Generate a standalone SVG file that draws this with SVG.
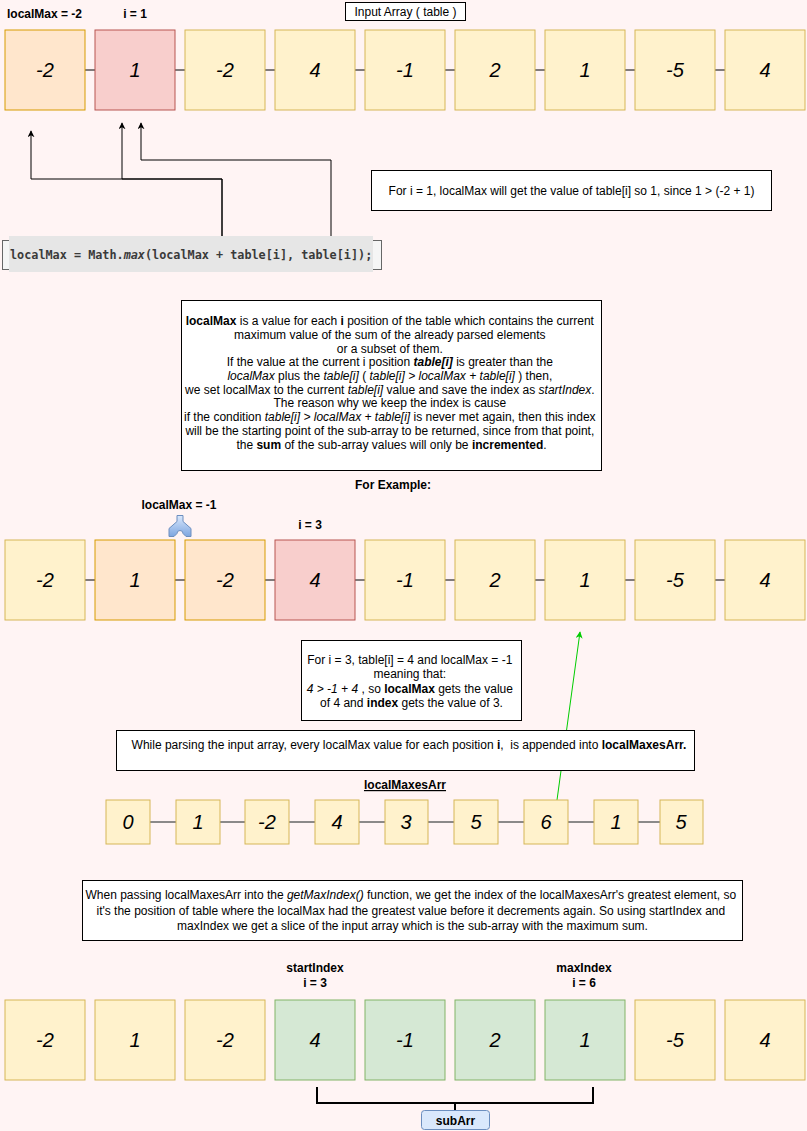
<svg xmlns="http://www.w3.org/2000/svg" width="807" height="1131" viewBox="0 0 807 1131">
<defs>
<style>
.bg{fill:#fff4f4}
.y{fill:#fff2cc;stroke:#d6b656;stroke-width:1}
.o{fill:#ffe6cc;stroke:#d79b00;stroke-width:1}
.r{fill:#f8cecc;stroke:#b85450;stroke-width:1}
.g{fill:#d5e8d4;stroke:#82b366;stroke-width:1}
.num{font-family:"Liberation Sans",Arial,sans-serif;font-size:20px;font-style:italic;text-anchor:middle;fill:#000}
.t{font-family:"Liberation Sans",Arial,sans-serif;font-size:12px;fill:#000}
.c{text-anchor:middle}
.b{font-weight:bold}
.i{font-style:italic}
.box{fill:#fff;stroke:#000;stroke-width:1}
.lnk{stroke:#000;stroke-width:1;fill:none}
.glnk{stroke:#666;stroke-width:1.5;fill:none}
.arr{stroke:#000;stroke-width:1;fill:none;marker-end:url(#ah)}
</style>
<linearGradient id="blueg" x1="0" y1="0" x2="0" y2="1">
<stop offset="0" stop-color="#dae8fc"/>
<stop offset="1" stop-color="#7ea6e0"/>
</linearGradient>
<marker id="ah" viewBox="0 0 10 10" refX="9" refY="5" markerWidth="7" markerHeight="7" orient="auto" markerUnits="userSpaceOnUse">
<path d="M0,0 L10,5 L0,10 L3,5 Z" fill="#000"/>
</marker>
<marker id="ahg" viewBox="0 0 10 10" refX="9" refY="5" markerWidth="7" markerHeight="7" orient="auto" markerUnits="userSpaceOnUse">
<path d="M0,0 L10,5 L0,10 L3,5 Z" fill="#00cc00"/>
</marker>
</defs>
<rect class="bg" x="0" y="0" width="807" height="1131"/>

<g id="connectors">
<path class="lnk" d="M85,70H95 M175,70H185 M265,70H275 M355,70H365 M445,70H455 M535,70H545 M625,70H635 M715,70H725"/>
<path class="lnk" d="M85,580H95 M175,580H185 M265,580H275 M355,580H365 M445,580H455 M535,580H545 M625,580H635 M715,580H725"/>
<path class="glnk" d="M150,822H176 M220,822H245 M289,822H315 M359,822H385 M428,822H454 M498,822H524 M568,822H594 M638,822H660"/>
<path class="arr" d="M222,236V179H31V131"/>
<path class="arr" d="M222,236V179H122V123"/>
<path class="arr" d="M331,236V160H141V123"/>
<path d="M557,800L580,632" stroke="#00cc00" stroke-width="1" fill="none" marker-end="url(#ahg)"/>
<path d="M317,1087V1103H593V1087 M455,1103V1110" stroke="#000" stroke-width="2" fill="none"/>
</g>

<g id="label-localMax-top"><text class="t b" x="7" y="18">localMax = -2</text></g>
<g id="label-i1"><text class="t b c" x="135" y="18">i = 1</text></g>
<g id="input-array-label">
<rect class="box" x="345.5" y="2.5" width="120" height="18"/>
<text class="t c" x="405.5" y="15.5">Input Array ( table )</text>
</g>

<g id="top-row">
<g id="t0"><rect class="o" x="5" y="30" width="80" height="80"/><text class="num" x="45" y="77">-2</text></g>
<g id="t1"><rect class="r" x="95" y="30" width="80" height="80"/><text class="num" x="135" y="77">1</text></g>
<g id="t2"><rect class="y" x="185" y="30" width="80" height="80"/><text class="num" x="225" y="77">-2</text></g>
<g id="t3"><rect class="y" x="275" y="30" width="80" height="80"/><text class="num" x="315" y="77">4</text></g>
<g id="t4"><rect class="y" x="365" y="30" width="80" height="80"/><text class="num" x="405" y="77">-1</text></g>
<g id="t5"><rect class="y" x="455" y="30" width="80" height="80"/><text class="num" x="495" y="77">2</text></g>
<g id="t6"><rect class="y" x="545" y="30" width="80" height="80"/><text class="num" x="585" y="77">1</text></g>
<g id="t7"><rect class="y" x="635" y="30" width="80" height="80"/><text class="num" x="675" y="77">-5</text></g>
<g id="t8"><rect class="y" x="725" y="30" width="80" height="80"/><text class="num" x="765" y="77">4</text></g>
</g>

<g id="note-i1">
<rect class="box" x="371.5" y="170.5" width="400" height="40"/>
<text class="t c" x="571.5" y="194.5">For i = 1, localMax will get the value of table[i] so 1, since 1 &gt; (-2 + 1)</text>
</g>

<g id="code">
<rect x="2.5" y="240.5" width="379" height="29" fill="#f5f5f5" stroke="#666" stroke-width="1"/>
<rect x="9" y="236" width="364" height="36" fill="#e6e6e6"/>
<text x="10" y="259" font-family="DejaVu Sans Mono,Liberation Mono,monospace" font-size="11.8" font-weight="bold" fill="#3a3a3a">localMax = Math.<tspan font-style="italic">max</tspan>(localMax + table[i], table[i]);</text>
</g>

<g id="explanation">
<rect class="box" x="181.5" y="300.5" width="420" height="170"/>
<text class="t c">
<tspan x="391.5" y="325"><tspan class="b">localMax</tspan> is a value for each <tspan class="b">i</tspan> position of the table which contains the current</tspan>
<tspan x="391.5" y="338.7">maximum value of the sum of the already parsed elements</tspan>
<tspan x="391.5" y="352.5">or a subset of them.</tspan>
<tspan x="391.5" y="366.2">If the value at the current i position <tspan class="b i">table[i]</tspan> is greater than the</tspan>
<tspan x="391.5" y="379.9"><tspan class="i">localMax</tspan> plus the <tspan class="i">table[i]</tspan> ( <tspan class="i">table[i] &gt; localMax + table[i]</tspan> ) then,</tspan>
<tspan x="391.5" y="393.7">we set localMax to the current <tspan class="i">table[i]</tspan> value and save the index as <tspan class="i">startIndex</tspan>.</tspan>
<tspan x="391.5" y="407.4">The reason why we keep the index is cause</tspan>
<tspan x="391.5" y="421.1">if the condition <tspan class="i">table[i] &gt; localMax + table[i]</tspan> is never met again, then this index</tspan>
<tspan x="391.5" y="434.8">will be the starting point of the sub-array to be returned, since from that point,</tspan>
<tspan x="391.5" y="448.6">the <tspan class="b">sum</tspan> of the sub-array values will only be <tspan class="b">incremented</tspan>.</tspan>
</text>
</g>

<g id="for-example"><text class="t b c" x="393" y="489">For Example:</text></g>
<g id="label-localMax-mid"><text class="t b c" x="179" y="509">localMax = -1</text></g>
<g id="icon-split">
<path d="M177,515.5H183V521.5L191,528.5V536.5H186L183,533.5A3,3 0 0 0 177,533.5L174,536.5H169V528.5L177,521.5Z" fill="url(#blueg)" stroke="#6c8ebf" stroke-width="1"/>
</g>
<g id="label-i3"><text class="t b c" x="310" y="529">i = 3</text></g>

<g id="middle-row">
<g id="m0"><rect class="y" x="5" y="540" width="80" height="80"/><text class="num" x="45" y="587">-2</text></g>
<g id="m1"><rect class="o" x="95" y="540" width="80" height="80"/><text class="num" x="135" y="587">1</text></g>
<g id="m2"><rect class="o" x="185" y="540" width="80" height="80"/><text class="num" x="225" y="587">-2</text></g>
<g id="m3"><rect class="r" x="275" y="540" width="80" height="80"/><text class="num" x="315" y="587">4</text></g>
<g id="m4"><rect class="y" x="365" y="540" width="80" height="80"/><text class="num" x="405" y="587">-1</text></g>
<g id="m5"><rect class="y" x="455" y="540" width="80" height="80"/><text class="num" x="495" y="587">2</text></g>
<g id="m6"><rect class="y" x="545" y="540" width="80" height="80"/><text class="num" x="585" y="587">1</text></g>
<g id="m7"><rect class="y" x="635" y="540" width="80" height="80"/><text class="num" x="675" y="587">-5</text></g>
<g id="m8"><rect class="y" x="725" y="540" width="80" height="80"/><text class="num" x="765" y="587">4</text></g>
</g>

<g id="note-i3">
<rect class="box" x="301.5" y="640.5" width="220" height="80"/>
<text class="t c">
<tspan x="411.5" y="663.5">For i = 3, table[i] = 4 and localMax = -1</tspan>
<tspan x="411.5" y="678">meaning that:</tspan>
<tspan x="411.5" y="692.5"><tspan class="i">4 &gt; -1 + 4</tspan> , so <tspan class="b">localMax</tspan> gets the value</tspan>
<tspan x="411.5" y="707">of 4 and <tspan class="b">index</tspan> gets the value of 3.</tspan>
</text>
</g>

<g id="note-parsing">
<rect class="box" x="116.5" y="730.5" width="578" height="40"/>
<text class="t c" x="409" y="749">While parsing the input array, every localMax value for each position <tspan class="b">i</tspan>, &#160;is appended into <tspan class="b">localMaxesArr.</tspan></text>
</g>

<g id="label-localMaxesArr"><text class="t b c" x="405" y="789" text-decoration="underline">localMaxesArr</text></g>

<g id="localMaxesArr">
<g id="a0"><rect class="y" x="106" y="800" width="44" height="44"/><text class="num" x="128" y="829">0</text></g>
<g id="a1"><rect class="y" x="176" y="800" width="44" height="44"/><text class="num" x="198" y="829">1</text></g>
<g id="a2"><rect class="y" x="245" y="800" width="44" height="44"/><text class="num" x="267" y="829">-2</text></g>
<g id="a3"><rect class="y" x="315" y="800" width="44" height="44"/><text class="num" x="337" y="829">4</text></g>
<g id="a4"><rect class="y" x="385" y="800" width="43" height="44"/><text class="num" x="406" y="829">3</text></g>
<g id="a5"><rect class="y" x="454" y="800" width="44" height="44"/><text class="num" x="476" y="829">5</text></g>
<g id="a6"><rect class="y" x="524" y="800" width="44" height="44"/><text class="num" x="546" y="829">6</text></g>
<g id="a7"><rect class="y" x="594" y="800" width="44" height="44"/><text class="num" x="616" y="829">1</text></g>
<g id="a8"><rect class="y" x="660" y="800" width="43" height="44"/><text class="num" x="681" y="829">5</text></g>
</g>

<g id="note-getMaxIndex">
<rect class="box" x="82.5" y="880.5" width="660" height="60"/>
<text class="t c" font-size="11.6">
<tspan x="412.5" y="899">When passing localMaxesArr into the <tspan class="i">getMaxIndex()</tspan> function, we get the index of the localMaxesArr's greatest element, so</tspan>
<tspan x="412.5" y="914.5">it's the position of table where the localMax had the greatest value before it decrements again. So using startIndex and</tspan>
<tspan x="412.5" y="930">maxIndex we get a slice of the input array which is the sub-array with the maximum sum.</tspan>
</text>
</g>

<g id="label-start"><text class="t b c"><tspan x="315" y="972">startIndex</tspan><tspan x="315" y="987">i = 3</tspan></text></g>
<g id="label-max"><text class="t b c"><tspan x="584" y="972">maxIndex</tspan><tspan x="584" y="987">i = 6</tspan></text></g>

<g id="bottom-row">
<g id="b0"><rect class="y" x="5" y="1000" width="80" height="80"/><text class="num" x="45" y="1047">-2</text></g>
<g id="b1"><rect class="y" x="95" y="1000" width="80" height="80"/><text class="num" x="135" y="1047">1</text></g>
<g id="b2"><rect class="y" x="185" y="1000" width="80" height="80"/><text class="num" x="225" y="1047">-2</text></g>
<g id="b3"><rect class="g" x="275" y="1000" width="80" height="80"/><text class="num" x="315" y="1047">4</text></g>
<g id="b4"><rect class="g" x="365" y="1000" width="80" height="80"/><text class="num" x="405" y="1047">-1</text></g>
<g id="b5"><rect class="g" x="455" y="1000" width="80" height="80"/><text class="num" x="495" y="1047">2</text></g>
<g id="b6"><rect class="g" x="545" y="1000" width="80" height="80"/><text class="num" x="585" y="1047">1</text></g>
<g id="b7"><rect class="y" x="635" y="1000" width="80" height="80"/><text class="num" x="675" y="1047">-5</text></g>
<g id="b8"><rect class="y" x="725" y="1000" width="80" height="80"/><text class="num" x="765" y="1047">4</text></g>
</g>

<g id="subArr">
<rect x="421.5" y="1110.5" width="68" height="19" rx="3" fill="#dae8fc" stroke="#6c8ebf" stroke-width="1"/>
<text class="t b c" x="455.5" y="1124.5">subArr</text>
</g>
</svg>
